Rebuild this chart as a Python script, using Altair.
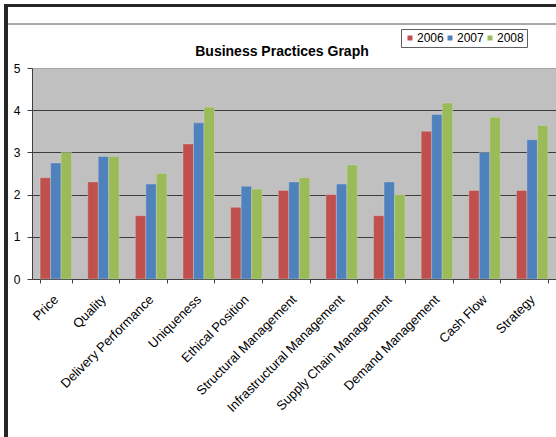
import altair as alt
import pandas as pd

categories = ["Price", "Quality", "Delivery Performance", "Uniqueness", "Ethical Position",
              "Structural Management", "Infrastructural Management", "Supply Chain Management",
              "Demand Management", "Cash Flow", "Strategy"]
years = ["2006", "2007", "2008"]
v2006 = [2.4, 2.3, 1.5, 3.2, 1.7, 2.1, 2.0, 1.5, 3.5, 2.1, 2.1]
v2007 = [2.75, 2.9, 2.25, 3.7, 2.2, 2.3, 2.25, 2.3, 3.9, 3.0, 3.3]
v2008 = [3.0, 2.9, 2.5, 4.07, 2.13, 2.4, 2.7, 2.0, 4.17, 3.83, 3.64]
colors = ["#C0504D", "#4F81BD", "#9BBB59"]
y_ticks = [0, 1, 2, 3, 4, 5]
title_text = "Business Practices Graph"

rows = []
for yr, vals in zip(years, [v2006, v2007, v2008]):
    for c, v in zip(categories, vals):
        rows.append({"category": c, "year": yr, "value": v})
df = pd.DataFrame(rows)

FONT = "Liberation Sans"
W, H = 524, 211

bars = alt.Chart(df).mark_bar(stroke="#d8d8d8", strokeWidth=0.6, strokeOpacity=0.6).encode(
    x=alt.X("category:N", sort=categories, title=None,
            scale=alt.Scale(paddingInner=0.34, paddingOuter=0.17),
            axis=alt.Axis(labelAngle=-45, labelAlign="right", labelBaseline="middle",
                          labelFontSize=13, labelFont=FONT, labelColor="black",
                          labelPadding=14, tickSize=4, tickBand="extent",
                          tickColor="#404040", domainColor="#404040", grid=False,
                          labelLimit=300)),
    xOffset=alt.XOffset("year:N", sort=years, scale=alt.Scale(paddingInner=0, paddingOuter=0)),
    y=alt.Y("value:Q", title=None, scale=alt.Scale(domain=[0, 5], nice=False),
            axis=alt.Axis(values=y_ticks, labelFontSize=12, labelFont=FONT, labelColor="black",
                          tickSize=5, tickColor="#404040", domainColor="#404040",
                          labelPadding=7, grid=True, gridWidth=1,
                          gridColor={"condition": {"test": "datum.value === 5", "value": "#a6a6a6"},
                                     "value": "#3c3c3c"})),
    color=alt.Color("year:N", sort=years, scale=alt.Scale(domain=years, range=colors),
                    legend=alt.Legend(title=None, orient="none", legendX=369, legendY=-39,
                                      direction="horizontal", symbolType="square", symbolSize=25,
                                      symbolStrokeWidth=0, labelFontSize=12, labelFont=FONT,
                                      labelColor="black", labelOffset=1, columnPadding=0,
                                      padding=3, strokeColor="#606060", fillColor="white",
                                      symbolOpacity=1)),
)

one = pd.DataFrame({"k": [0]})

title = alt.Chart(one).mark_text(text=title_text, font=FONT, fontSize=14, fontWeight="bold",
                                 align="center", baseline="alphabetic", color="black").encode(
    x=alt.value(250), y=alt.value(-12))

left_line = alt.Chart(one).mark_rule(color="#262626", strokeWidth=4, clip=False).encode(
    x=alt.value(-26), y=alt.value(-64), y2=alt.value(369))
top_line = alt.Chart(one).mark_rule(color="#262626", strokeWidth=3, clip=False).encode(
    x=alt.value(-28), x2=alt.value(524), y=alt.value(-62.5))
gray_line = alt.Chart(one).mark_rule(color="#555555", strokeWidth=1, clip=False).encode(
    x=alt.value(-24), x2=alt.value(524), y=alt.value(-44))

chart = alt.layer(bars, title, left_line, top_line, gray_line).properties(
    width=W, height=H,
    padding={"left": 32, "top": 68, "right": 0, "bottom": 158},
    autosize="none",
    background="white",
).configure_view(fill="#C0C0C0", stroke="transparent")

chart.save("out.html", embed_options={"renderer": "svg", "actions": False})
